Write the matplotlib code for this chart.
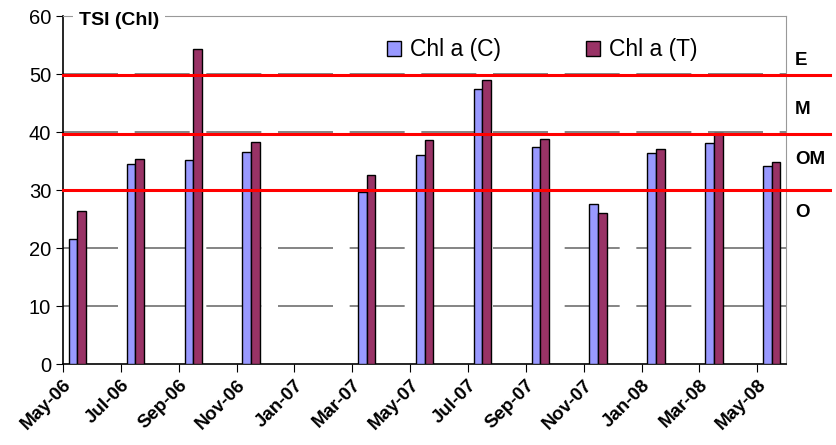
import matplotlib.pyplot as plt
import numpy as np

plt.rcParams['font.family'] = ['Liberation Sans', 'DejaVu Sans']

# monthly axis, starting May-06
tick_labels = ['May-06', 'Jul-06', 'Sep-06', 'Nov-06', 'Jan-07', 'Mar-07', 'May-07',
               'Jul-07', 'Sep-07', 'Nov-07', 'Jan-08', 'Mar-08', 'May-08']
sample_month = [0, 2, 4, 6, 10, 12, 14, 16, 18, 20, 22, 24]
chl_c = [21.5, 34.5, 35.2, 36.5, 29.7, 36.0, 47.4, 37.5, 27.6, 36.4, 38.1, 34.1]
chl_t = [26.4, 35.3, 54.3, 38.3, 32.6, 38.6, 48.9, 38.8, 26.0, 37.0, 39.8, 34.9]

# trophic class limits and names
limits = [49.8, 39.6, 30.0]
classes = ['E', 'M', 'OM', 'O']
class_y = [52.4, 43.8, 35.2, 26.2]

fig = plt.figure(figsize=(8.37, 4.45), dpi=100)
ax = fig.add_axes([0.0753, 0.182, 0.864, 0.782])

x = np.array(sample_month) + 0.5
w = 0.3
ax.bar(x - w / 2, chl_c, width=w, color='#9999FF', edgecolor='black', linewidth=1,
       label='Chl a (C)', zorder=3)
ax.bar(x + w / 2, chl_t, width=w, color='#993366', edgecolor='black', linewidth=1,
       label='Chl a (T)', zorder=3)

ax.set_xlim(0, 25)
ax.set_ylim(0, 60)
ax.set_yticks(range(0, 61, 10))
ax.set_xticks(range(0, 25, 2))
ax.set_xticklabels(tick_labels, rotation=45, ha='right', rotation_mode='anchor',
                   fontsize=13.5, fontweight='bold')
ax.tick_params(axis='y', labelsize=14.5, length=5, direction='out')
ax.tick_params(axis='x', length=6, direction='out', pad=3)

for yv in range(10, 60, 10):
    ax.axhline(yv, color='#6f6f6f', linewidth=1.2, dashes=(33, 10), zorder=1)

for s in ['top', 'right']:
    ax.spines[s].set_color('#999999')
for s in ['left', 'bottom']:
    ax.spines[s].set_color('black')
    ax.spines[s].set_linewidth(1.2)

for lim in limits:
    ax.axhline(lim, xmin=0, xmax=1.06, color='#FF0000', linewidth=2.2,
               clip_on=False, zorder=4)

for name, yv in zip(classes, class_y):
    ax.text(1.012, yv, name, transform=ax.get_yaxis_transform(), fontsize=13.5,
            fontweight='bold', va='center', ha='left')

ax.text(0.022, 59.2, 'TSI (Chl)', transform=ax.get_yaxis_transform(), fontsize=14,
        fontweight='bold', va='center', ha='left', zorder=5,
        bbox=dict(facecolor='white', edgecolor='none', pad=4))

ax.legend(loc='upper left', bbox_to_anchor=(0.42, 0.995), ncol=2, frameon=False,
          fontsize=16.5, handlelength=0.6, handleheight=0.6, handletextpad=0.4,
          columnspacing=3.7)

fig.savefig('out.png', dpi=100)
